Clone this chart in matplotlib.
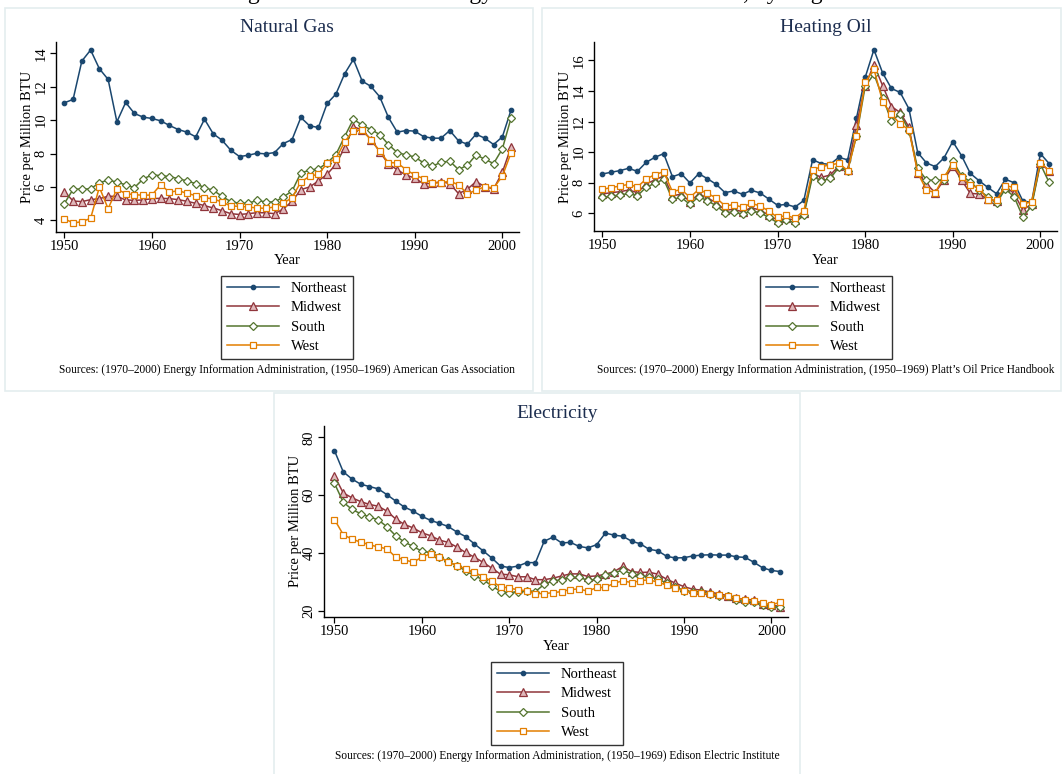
import matplotlib
matplotlib.use("Agg")
import matplotlib.pyplot as plt
from matplotlib.lines import Line2D
from matplotlib.patches import Rectangle

plt.rcParams['font.family'] = ['Liberation Serif', 'DejaVu Serif']

W, H = 1062, 774

years = list(range(1950, 2002))
regions = ['Northeast', 'Midwest', 'South', 'West']

# Natural gas, dollars per million BTU
gas_northeast = [11.04, 11.24, 13.54, 14.2, 13.08, 12.44, 9.9, 11.06, 10.4, 10.18,
                 10.1, 9.96, 9.68, 9.44, 9.28, 9.0, 10.06, 9.18, 8.8, 8.2,
                 7.82, 7.9, 8.02, 7.98, 8.06, 8.6, 8.84, 10.16, 9.66, 9.56,
                 11.0, 11.56, 12.78, 13.64, 12.34, 12.02, 11.4, 10.16, 9.28, 9.38,
                 9.34, 9.02, 8.92, 8.92, 9.38, 8.76, 8.56, 9.16, 8.92, 8.54,
                 9.0, 10.62]
gas_midwest = [5.72, 5.16, 5.12, 5.24, 5.3, 5.44, 5.44, 5.22, 5.2, 5.22,
               5.3, 5.32, 5.3, 5.24, 5.14, 5.02, 4.88, 4.74, 4.58, 4.4,
               4.35, 4.4, 4.46, 4.45, 4.4, 4.68, 5.14, 5.84, 6.0, 6.36,
               6.76, 7.36, 8.36, 9.6, 9.42, 8.84, 8.12, 7.36, 7.04, 6.7,
               6.54, 6.18, 6.22, 6.32, 6.2, 5.6, 5.86, 6.32, 6.02, 5.88,
               6.88, 8.4]
gas_south = [5.0, 5.86, 5.88, 5.88, 6.26, 6.4, 6.3, 6.12, 5.96, 6.48,
             6.72, 6.68, 6.62, 6.5, 6.36, 6.2, 5.96, 5.8, 5.44, 5.12,
             5.02, 5.02, 5.2, 5.1, 5.1, 5.4, 5.76, 6.84, 7.0, 7.08,
             7.44, 7.94, 9.02, 10.06, 9.7, 9.44, 9.14, 8.54, 8.06, 7.92,
             7.8, 7.44, 7.24, 7.48, 7.54, 7.04, 7.3, 7.92, 7.66, 7.4,
             8.28, 10.14]
gas_west = [4.1, 3.84, 3.92, 4.12, 5.98, 4.7, 5.88, 5.6, 5.54, 5.5,
            5.52, 6.14, 5.68, 5.78, 5.62, 5.48, 5.36, 5.28, 5.1, 4.86,
            4.84, 4.8, 4.74, 4.72, 4.8, 5.03, 5.36, 6.3, 6.64, 6.76,
            7.42, 7.7, 8.7, 9.38, 9.4, 8.82, 8.14, 7.46, 7.44, 7.04,
            6.72, 6.5, 6.24, 6.24, 6.36, 6.12, 5.6, 5.8, 6.02, 5.94,
            6.64, 8.06]

# Heating oil
oil_northeast = [8.57, 8.68, 8.79, 8.94, 8.74, 9.33, 9.66, 9.9, 8.39, 8.59,
                 7.98, 8.59, 8.26, 7.89, 7.35, 7.46, 7.24, 7.5, 7.33, 6.93,
                 6.52, 6.58, 6.41, 6.84, 9.5, 9.25, 9.2, 9.66, 9.49, 12.2,
                 14.88, 16.7, 15.17, 14.16, 13.9, 12.83, 9.97, 9.29, 9.05, 9.62,
                 10.69, 9.77, 8.61, 8.13, 7.69, 7.28, 8.22, 8.0, 6.8, 6.71,
                 9.9, 9.25]
oil_midwest = [7.26, 7.35, 7.41, 7.52, 7.35, 7.92, 8.18, 8.44, 7.13, 7.26,
               6.76, 7.26, 7.0, 6.69, 6.21, 6.25, 6.1, 6.36, 6.21, 5.88,
               5.55, 5.66, 5.55, 5.99, 8.61, 8.35, 8.5, 9.09, 8.83, 11.78,
               14.34, 15.72, 14.34, 12.98, 12.59, 11.63, 8.66, 7.91, 7.35, 8.18,
               9.09, 8.18, 7.3, 7.26, 6.91, 6.82, 7.74, 7.3, 6.21, 6.6,
               9.27, 8.79]
oil_south = [7.04, 7.13, 7.19, 7.3, 7.15, 7.7, 7.96, 8.22, 6.91, 7.04,
             6.58, 7.09, 6.82, 6.49, 6.03, 6.1, 5.95, 6.17, 6.03, 5.73,
             5.38, 5.55, 5.38, 5.88, 8.44, 8.1, 8.28, 9.0, 8.79, 11.02,
             14.3, 15.1, 13.57, 12.04, 12.5, 11.41, 8.94, 8.18, 8.15, 8.18,
             9.44, 8.44, 8.07, 7.52, 7.08, 6.65, 7.59, 7.08, 5.77, 6.47,
             9.22, 8.02]
oil_west = [7.56, 7.68, 7.78, 7.89, 7.72, 8.24, 8.53, 8.72, 7.41, 7.56,
            7.04, 7.56, 7.3, 7.0, 6.49, 6.56, 6.39, 6.65, 6.48, 6.15,
            5.73, 5.86, 5.67, 6.17, 8.83, 9.05, 9.16, 9.27, 8.79, 11.06,
            14.56, 15.43, 13.29, 12.46, 11.85, 11.46, 8.64, 7.52, 7.35, 8.4,
            9.16, 8.4, 7.85, 7.63, 6.89, 6.84, 7.8, 7.69, 6.6, 6.75,
            9.31, 8.79]

# Electricity
elec_northeast = [75.4, 68.1, 65.6, 63.8, 63.0, 62.2, 60.2, 58.0, 55.9, 54.5,
                  52.7, 51.3, 50.3, 49.2, 47.3, 45.7, 43.2, 40.8, 38.3, 35.5,
                  35.0, 35.5, 36.7, 36.7, 44.1, 45.5, 43.5, 43.7, 42.3, 41.8,
                  42.9, 46.9, 46.2, 45.8, 44.1, 43.2, 41.3, 40.8, 38.9, 38.3,
                  38.4, 39.0, 39.3, 39.4, 39.3, 39.3, 38.7, 38.5, 36.8, 34.9,
                  34.0, 33.6]
elec_midwest = [66.7, 60.8, 59.1, 57.8, 56.8, 56.2, 54.5, 51.8, 49.9, 48.7,
                47.0, 46.0, 44.5, 43.7, 42.1, 40.2, 38.6, 36.8, 34.8, 32.7,
                32.5, 31.8, 31.8, 30.8, 30.8, 31.3, 32.1, 32.8, 32.8, 31.9,
                32.1, 32.7, 33.6, 35.4, 33.6, 33.3, 33.4, 32.7, 31.0, 29.6,
                28.4, 27.5, 27.2, 26.5, 25.9, 25.3, 24.4, 24.0, 23.8, 22.5,
                22.1, 21.5]
elec_south = [64.1, 57.6, 55.1, 53.6, 52.5, 51.5, 49.1, 46.0, 43.8, 42.3,
              40.6, 40.2, 38.6, 37.1, 35.6, 33.9, 32.2, 30.8, 28.7, 26.7,
              26.3, 26.7, 26.9, 26.7, 29.2, 30.4, 30.8, 31.7, 31.6, 30.6,
              31.0, 32.5, 33.1, 34.2, 32.7, 32.2, 31.7, 31.1, 29.6, 28.4,
              27.0, 26.7, 26.6, 25.9, 25.3, 25.0, 23.8, 23.2, 23.0, 22.1,
              21.4, 21.3]
elec_west = [51.6, 46.4, 44.8, 43.8, 42.9, 42.1, 41.5, 38.6, 37.7, 36.8,
             38.6, 39.8, 38.6, 37.0, 35.7, 34.6, 33.3, 31.9, 30.2, 28.4,
             27.9, 27.3, 27.0, 26.0, 26.0, 26.3, 26.7, 27.4, 27.6, 26.8,
             28.1, 28.1, 29.6, 30.4, 29.8, 30.4, 30.8, 29.9, 29.0, 27.9,
             26.9, 26.3, 26.1, 25.8, 25.4, 25.0, 24.4, 23.8, 23.5, 22.7,
             22.1, 23.0]

# colores y marcadores de cada region
colores = ['#1a476f', '#90353b', '#55752f', '#e37e00']
marcadores = [
    dict(marker='o', markersize=3.2, markerfacecolor='#1a476f'),
    dict(marker='^', markersize=5.5, markerfacecolor='#e0b8bb'),
    dict(marker='D', markersize=4.5, markerfacecolor='white'),
    dict(marker='s', markersize=4.8, markerfacecolor='white'),
]

fig = plt.figure(figsize=(W / 100, H / 100), dpi=100)


def caja(x0, y0, x1, y1):
    fig.add_artist(Rectangle((x0 / W, 1 - y1 / H), (x1 - x0) / W, (y1 - y0) / H,
                             transform=fig.transFigure, fill=False,
                             edgecolor='#e4edef', linewidth=1.2))


def panel(rect, titulo, series, xlim, ylim, yticks, fuente, cx, titulo_y, leyenda_y, fuente_y):
    x0, y0, x1, y1 = rect
    ax = fig.add_axes([x0 / W, 1 - y1 / H, (x1 - x0) / W, (y1 - y0) / H])
    for datos, color, mk in zip(series, colores, marcadores):
        ax.plot(years, datos, color=color, linewidth=1.1,
                markeredgecolor=color, markeredgewidth=0.9, **mk)
    ax.set_xlim(*xlim)
    ax.set_ylim(*ylim)
    ax.set_xticks(range(1950, 2001, 10))
    ax.set_yticks(yticks)
    ax.spines['top'].set_visible(False)
    ax.spines['right'].set_visible(False)
    for s in ('left', 'bottom'):
        ax.spines[s].set_linewidth(1.0)
    ax.tick_params(direction='out', length=4, width=0.9, labelsize=10.5, pad=2)
    plt.setp(ax.get_yticklabels(), rotation=90, va='center')
    ax.set_xlabel('Year', fontsize=10.5, labelpad=1)
    ax.set_ylabel('Price per Million BTU', fontsize=10.5, labelpad=0.5)

    fig.text(cx / W, 1 - titulo_y / H, titulo, ha='center', va='center',
             fontsize=14, color='#1c2d4f')

    handles = [Line2D([], [], color=c, linewidth=1.1, markeredgecolor=c,
                      markeredgewidth=0.9, **mk) for c, mk in zip(colores, marcadores)]
    leg = fig.legend(handles, regions, loc='upper center',
                     bbox_to_anchor=(cx / W, 1 - leyenda_y / H),
                     fontsize=10.5, frameon=True, fancybox=False, edgecolor='black',
                     handlelength=3.6, handletextpad=0.8, labelspacing=0.42,
                     borderpad=0.4, borderaxespad=0)
    leg.get_frame().set_linewidth(1.0)

    fig.text(cx / W, 1 - fuente_y / H, fuente, ha='center', va='center', fontsize=8.3)
    return ax


# titulo general, cortado en el borde superior
fig.text(0.5, 1 + 1.5 / H, 'Long-Run Residential Energy Costs in the United States, by Region',
         ha='center', va='baseline', fontsize=17)

caja(5, 7.5, 533, 391)
caja(542, 7.5, 1061, 391)
caja(274, 393, 800, 780)

panel((56, 42, 519, 231.7), 'Natural Gas',
      [gas_northeast, gas_midwest, gas_south, gas_west],
      (1949.05, 2001.9), (3.32, 14.68), [4, 6, 8, 10, 12, 14],
      'Sources: (1970\u20132000) Energy Information Administration, (1950\u20131969) American Gas Association',
      287, 28, 276, 369.6)

panel((593.6, 42, 1057, 231), 'Heating Oil',
      [oil_northeast, oil_midwest, oil_south, oil_west],
      (1949.0, 2001.9), (4.84, 17.2), [6, 8, 10, 12, 14, 16],
      'Sources: (1970\u20132000) Energy Information Administration, (1950\u20131969) Platt\u2019s Oil Price Handbook',
      826, 28, 276, 369.6)

panel((324, 425.5, 788, 617), 'Electricity',
      [elec_northeast, elec_midwest, elec_south, elec_west],
      (1948.8, 2001.9), (17.9, 84.1), [20, 40, 60, 80],
      'Sources: (1970\u20132000) Energy Information Administration, (1950\u20131969) Edison Electric Institute',
      557, 414, 662, 756.5)

plt.savefig('out.png', dpi=100)
